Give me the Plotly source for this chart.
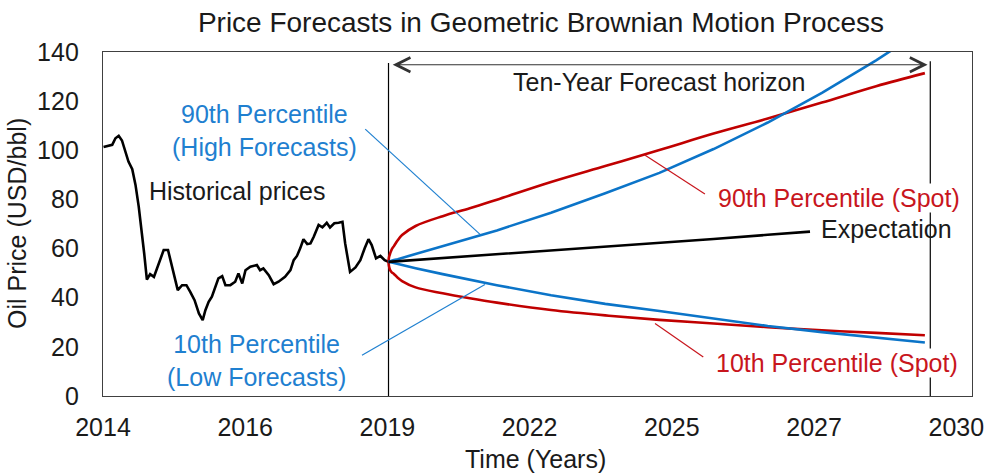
import plotly.graph_objects as go

# ---------------- data ----------------
hist_year = [2014.01, 2014.11, 2014.17, 2014.23, 2014.29, 2014.35, 2014.41, 2014.47, 2014.54, 2014.60,
             2014.66, 2014.72, 2014.76, 2014.81, 2014.87, 2014.94, 2015.00, 2015.06, 2015.12, 2015.20,
             2015.26, 2015.32, 2015.38, 2015.46, 2015.54, 2015.61, 2015.69, 2015.77, 2015.84, 2015.89,
             2015.95, 2016.01, 2016.07, 2016.13, 2016.20, 2016.26, 2016.35, 2016.44, 2016.50, 2016.57,
             2016.63, 2016.72, 2016.84, 2016.90, 2016.96, 2017.06, 2017.15, 2017.24, 2017.36, 2017.46,
             2017.52, 2017.58, 2017.64, 2017.70, 2017.77, 2017.83, 2017.89, 2017.98, 2018.05, 2018.13,
             2018.19, 2018.27, 2018.35, 2018.42, 2018.47, 2018.56, 2018.66, 2018.75, 2018.83, 2018.90,
             2018.96, 2019.04, 2019.12, 2019.20, 2019.27]
hist_price = [101.3, 101.8, 102.2, 104.9, 105.9, 104.0, 99.5, 95.4, 92.3, 85.9,
              77.0, 66.2, 58.1, 47.4, 49.6, 48.5, 51.9, 56.0, 59.4, 59.4,
              54.0, 48.5, 43.1, 45.1, 45.1, 42.4, 39.0, 33.6, 30.9, 34.9,
              38.3, 40.4, 44.4, 47.9, 48.8, 45.1, 45.1, 46.5, 49.9, 45.8,
              51.2, 52.6, 53.3, 51.2, 51.9, 49.2, 45.5, 46.5, 48.5, 51.2,
              55.3, 57.0, 60.1, 63.8, 61.8, 62.1, 64.8, 69.6, 68.6, 70.5,
              68.6, 70.3, 70.5, 70.9, 62.1, 50.5, 52.3, 55.3, 60.1, 63.8,
              61.4, 56.0, 57.0, 55.3, 54.6]

# forecast horizon (years after the last historical observation)
fc_t = [0, 0.01, 0.03, 0.06, 0.1, 0.17, 0.25, 0.5, 1, 1.5, 2, 3, 4, 5, 6, 7, 8, 9, 9.9]
p90_spot = [54.6, 56.6, 58.0, 59.7, 61.0, 63.4, 65.5, 69.2, 73.2, 76.4, 79.9, 87.1, 93.6, 100.1, 106.8, 112.9, 119.4, 126.1, 131.4]
p10_spot = [54.6, 52.7, 51.2, 50.3, 49.7, 48.1, 46.8, 44.2, 41.8, 39.8, 38.0, 35.0, 32.8, 31.0, 29.5, 28.0, 26.7, 25.7, 24.7]
p90_high = [54.6, 54.7, 54.8, 55.0, 55.3, 55.7, 56.2, 57.9, 61.0, 64.1, 67.4, 74.6, 82.5, 90.8, 100.5, 111.3, 123.4, 136.6, 149.5]
p10_low = [54.6, 54.5, 54.45, 54.3, 54.1, 53.7, 53.3, 52.0, 49.6, 47.3, 45.1, 41.0, 37.5, 34.6, 31.6, 28.5, 26.0, 23.8, 21.8]

exp_t = [0, 1, 2, 3, 4, 5, 6, 7, 7.78]
expectation = [54.6, 56.1, 57.6, 59.1, 60.6, 62.1, 63.9, 65.6, 66.9]

horizon_years = 10
tick_labels = ["2014", "2016", "2019", "2022", "2025", "2027", "2030"]
tick_step = 2.625
y_ticks = [0, 20, 40, 60, 80, 100, 120, 140]

# ---------------- figure ----------------
FONT = "Liberation Sans, Arial, sans-serif"
BLUE = "#0B74C8"
BLUE_T = "#1F80D0"
RED = "#C00000"
RED_T = "#C8161D"
TXT = "#1a1a1a"

fc_start = hist_year[-1]
fc_x = [fc_start + t for t in fc_t]
exp_x = [fc_start + t for t in exp_t]
fc_end = fc_start + horizon_years

fig = go.Figure()
fig.add_trace(go.Scatter(x=hist_year, y=hist_price, mode="lines",
                         line=dict(color="black", width=2.6), name="Historical prices"))
fig.add_trace(go.Scatter(x=fc_x, y=p90_spot, mode="lines", line_shape="spline",
                         line=dict(color=RED, width=2.6), name="90th Percentile (Spot)"))
fig.add_trace(go.Scatter(x=fc_x, y=p10_spot, mode="lines", line_shape="spline",
                         line=dict(color=RED, width=2.6), name="10th Percentile (Spot)"))
fig.add_trace(go.Scatter(x=fc_x, y=p90_high, mode="lines",
                         line=dict(color=BLUE, width=2.6), name="90th Percentile (High Forecasts)"))
fig.add_trace(go.Scatter(x=fc_x, y=p10_low, mode="lines",
                         line=dict(color=BLUE, width=2.6), name="10th Percentile (Low Forecasts)"))
fig.add_trace(go.Scatter(x=exp_x, y=expectation, mode="lines",
                         line=dict(color="black", width=2.6), name="Expectation"))

shapes = [
    dict(type="line", x0=fc_start, x1=fc_start, y0=0, y1=135.5, line=dict(color="black", width=1.2), layer="below"),
    dict(type="line", x0=fc_end, x1=fc_end, y0=0, y1=136.2, line=dict(color="black", width=1.2), layer="below"),
    # leader lines
    dict(type="line", x0=2018.84, y0=108.6, x1=2020.96, y1=65.8, line=dict(color=BLUE_T, width=1.2)),
    dict(type="line", x0=2018.78, y0=16.6, x1=2021.05, y1=45.4, line=dict(color=BLUE_T, width=1.2)),
    dict(type="line", x0=2024.00, y0=98.1, x1=2025.11, y1=82.2, line=dict(color=RED_T, width=1.2)),
    dict(type="line", x0=2024.19, y0=29.5, x1=2025.08, y1=15.9, line=dict(color=RED_T, width=1.2)),
]

ann = []
# double arrow for the horizon
ann.append(dict(x=fc_end - 0.05, y=134.8, ax=fc_start + 0.05, ay=134.8, xref="x", yref="y",
                axref="x", ayref="y", text="", showarrow=True, arrowside="end+start",
                arrowhead=5, startarrowhead=5, arrowsize=2.6, startarrowsize=2.6,
                arrowwidth=1.1, arrowcolor="#333333", standoff=0, startstandoff=0))


def label(x, y, text, color, bg=None):
    d = dict(x=x, y=y, xref="x", yref="y", text=text, showarrow=False,
             font=dict(family=FONT, size=25, color=color), xanchor="center", yanchor="middle",
             align="center")
    if bg:
        d["bgcolor"] = bg
        d["borderpad"] = 0
    return d


ann.append(label(2016.48, 83.5, "Historical prices", TXT))
ann.append(label(2016.98, 108.0, "90th Percentile<br>(High Forecasts)", BLUE_T))
ann.append(label(2016.83, 14.6, "10th Percentile<br>(Low Forecasts)", BLUE_T))
ann.append(label(2024.27, 127.6, "Ten-Year Forecast horizon", TXT))
ann.append(label(2027.58, 80.7, "90th Percentile (Spot)", RED_T, "white"))
ann.append(label(2028.47, 68.0, "Expectation", TXT))
ann.append(label(2027.54, 13.6, "10th Percentile (Spot)", RED_T, "white"))

# axis titles (placed in paper coordinates)
ann.append(dict(x=0.498, y=-0.183, xref="paper", yref="paper", text="Time (Years)", showarrow=False,
                font=dict(family=FONT, size=25, color=TXT), xanchor="center", yanchor="middle"))
ann.append(dict(x=-0.099, y=0.503, xref="paper", yref="paper", text="Oil Price (USD/bbl)", showarrow=False,
                textangle=-90, font=dict(family=FONT, size=25, color=TXT), xanchor="center", yanchor="middle"))

fig.update_layout(
    width=987, height=475,
    margin=dict(l=103, r=15, t=52, b=79, autoexpand=False),
    paper_bgcolor="white", plot_bgcolor="white",
    showlegend=False,
    font=dict(family=FONT, size=25, color=TXT),
    title=dict(text="Price Forecasts in Geometric Brownian Motion Process",
               font=dict(family=FONT, size=28, color=TXT),
               x=541 / 987, xanchor="center", xref="container",
               y=1 - 22 / 475, yanchor="middle", yref="container"),
    shapes=shapes,
    annotations=ann,
)
fig.update_xaxes(
    range=[2014, 2030.04], automargin=False,
    tickvals=[2014 + tick_step * i for i in range(len(tick_labels))],
    ticktext=tick_labels,
    showgrid=False, zeroline=False,
    showline=True, mirror=True, linecolor="#404040", linewidth=1.4,
    ticks="", ticklabelstandoff=9,
    tickfont=dict(family=FONT, size=25, color=TXT),
)
fig.update_yaxes(
    range=[0, 140], automargin=False,
    tickvals=y_ticks,
    showgrid=False, zeroline=False,
    showline=True, mirror=True, linecolor="#404040", linewidth=1.4,
    ticks="", ticklabelstandoff=18,
    tickfont=dict(family=FONT, size=25, color=TXT),
)

fig.write_html("out.html")
